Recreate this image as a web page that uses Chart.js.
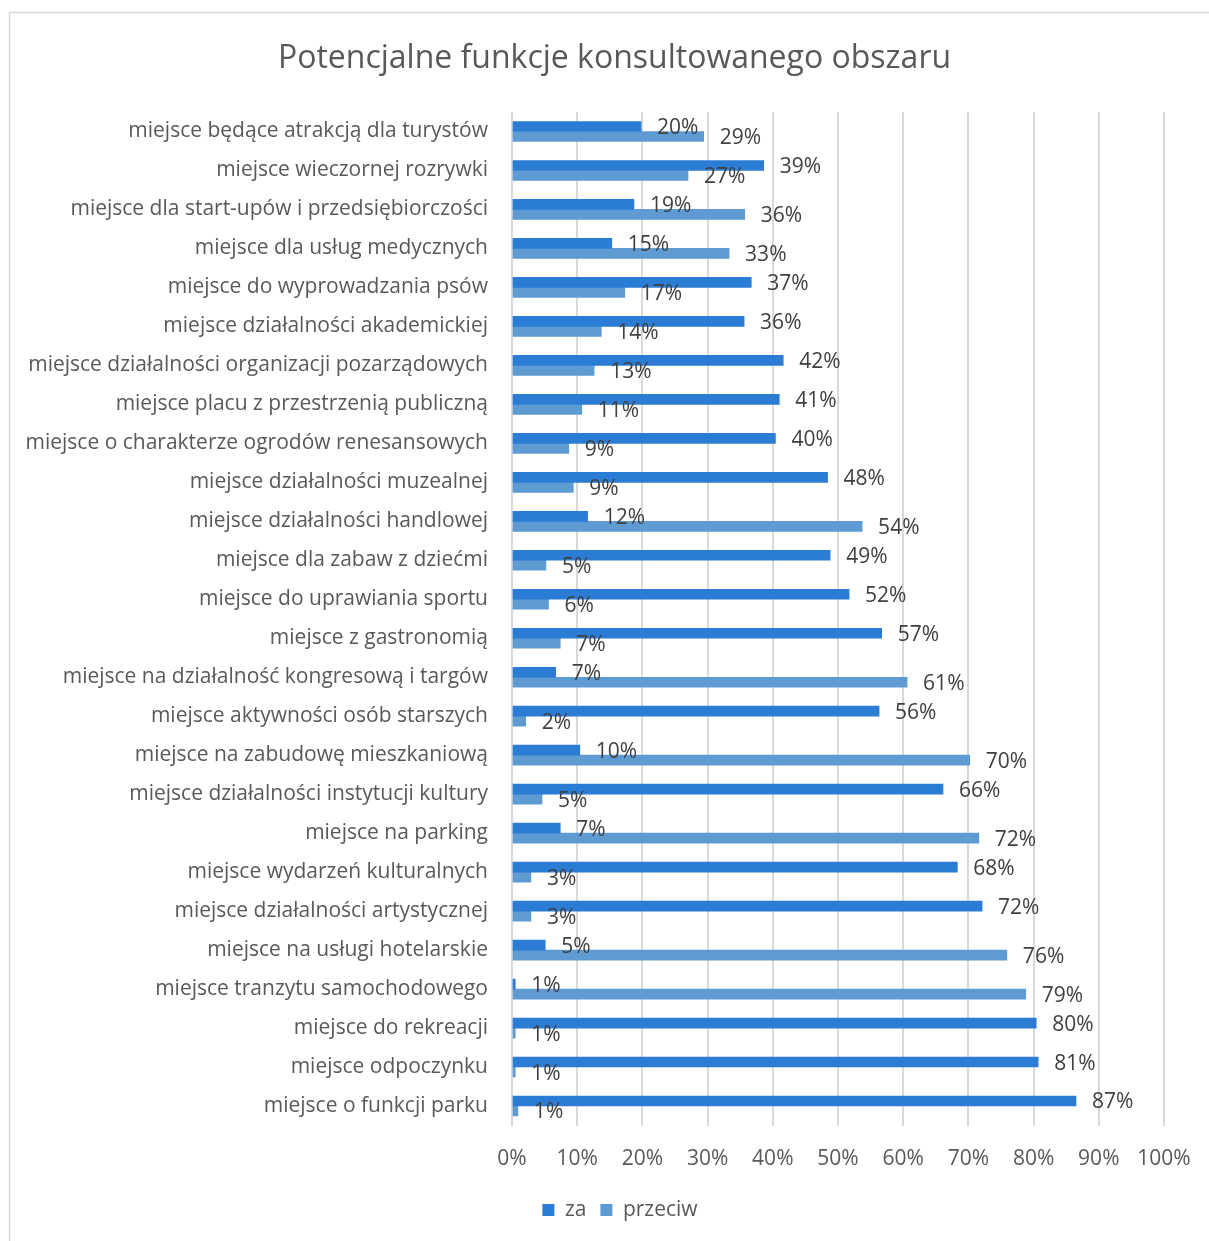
<!DOCTYPE html>
<html>
<head>
<meta charset="utf-8">
<script src="https://cdn.jsdelivr.net/npm/chart.js@4.4.1/dist/chart.umd.min.js"></script>
<style>
  html, body { margin: 0; padding: 0; background: #ffffff; }
  #wrap { position: relative; width: 1209px; height: 1241px; }
  canvas { display: block; }
</style>
</head>
<body>
<div id="wrap"><canvas id="c" width="1209" height="1241"></canvas></div>
<script>
const chartTitle = 'Potencjalne funkcje konsultowanego obszaru';
const categories = [
  'miejsce będące atrakcją dla turystów',
  'miejsce wieczornej rozrywki',
  'miejsce dla start-upów i przedsiębiorczości',
  'miejsce dla usług medycznych',
  'miejsce do wyprowadzania psów',
  'miejsce działalności akademickiej',
  'miejsce działalności organizacji pozarządowych',
  'miejsce placu z przestrzenią publiczną',
  'miejsce o charakterze ogrodów renesansowych',
  'miejsce działalności muzealnej',
  'miejsce działalności handlowej',
  'miejsce dla zabaw z dziećmi',
  'miejsce do uprawiania sportu',
  'miejsce z gastronomią',
  'miejsce na działalność kongresową i targów',
  'miejsce aktywności osób starszych',
  'miejsce na zabudowę mieszkaniową',
  'miejsce działalności instytucji kultury',
  'miejsce na parking',
  'miejsce wydarzeń kulturalnych',
  'miejsce działalności artystycznej',
  'miejsce na usługi hotelarskie',
  'miejsce tranzytu samochodowego',
  'miejsce do rekreacji',
  'miejsce odpoczynku',
  'miejsce o funkcji parku'
];
const seriesNames = ['za', 'przeciw'];
const zaValues = [19.8, 38.6, 18.7, 15.3, 36.7, 35.6, 41.6, 41.0, 40.4, 48.4, 11.6, 48.8, 51.7, 56.7, 6.7, 56.3, 10.4, 66.1, 7.4, 68.3, 72.1, 5.1, 0.5, 80.4, 80.7, 86.5];
const przeciwValues = [29.4, 27.0, 35.7, 33.3, 17.3, 13.7, 12.6, 10.7, 8.7, 9.4, 53.7, 5.2, 5.6, 7.4, 60.6, 2.1, 70.2, 4.6, 71.6, 2.9, 2.9, 75.9, 78.8, 0.5, 0.5, 0.9];
const xTickStep = 10;
const xMax = 100;

const FONT = '"Open Sans", "DejaVu Sans", sans-serif';
const PLOT_LEFT = 512;
const X_AXIS_HEIGHT = 60;
const LEGEND_SHIFT = 76;
const TITLE_SHIFT = 65;

const frameAndLabels = {
  id: 'frameAndLabels',
  afterLayout(chart) {
    if (chart.legend) chart.legend.left += LEGEND_SHIFT;
    if (chart.titleBlock) chart.titleBlock.left += TITLE_SHIFT;
  },
  beforeDraw(chart) {
    const ctx = chart.ctx;
    ctx.save();
    ctx.fillStyle = '#ffffff';
    ctx.fillRect(0, 0, chart.width, chart.height);
    ctx.strokeStyle = '#D9D9D9';
    ctx.lineWidth = 1.5;
    ctx.strokeRect(9.5, 12.5, chart.width + 20, chart.height + 20);
    ctx.restore();
  },
  afterDatasetsDraw(chart) {
    const ctx = chart.ctx;
    ctx.save();
    ctx.font = '21px ' + FONT;
    ctx.fillStyle = '#404040';
    ctx.textAlign = 'left';
    ctx.textBaseline = 'middle';
    chart.data.datasets.forEach((ds, di) => {
      const meta = chart.getDatasetMeta(di);
      meta.data.forEach((el, i) => {
        const v = ds.data[i];
        ctx.fillText(Math.round(v) + '%', el.x + 16, el.y + 1.5);
      });
    });
    ctx.restore();
  }
};

new Chart(document.getElementById('c'), {
  type: 'bar',
  data: {
    labels: categories,
    datasets: [
      { label: seriesNames[0], data: zaValues, backgroundColor: '#2B7CD5', barThickness: 10 },
      { label: seriesNames[1], data: przeciwValues, backgroundColor: '#5F9BD3', barThickness: 10 }
    ]
  },
  options: {
    indexAxis: 'y',
    responsive: false,
    animation: false,
    layout: { padding: { top: 0, right: 45, bottom: 10.5, left: 0 } },
    plugins: {
      title: {
        display: true,
        text: chartTitle,
        color: '#595959',
        font: { family: FONT, size: 32, weight: 'normal' },
        padding: { top: 40, bottom: 33.6 }
      },
      legend: {
        display: true,
        position: 'bottom',
        labels: {
          boxWidth: 12,
          boxHeight: 12,
          color: '#595959',
          font: { family: FONT, size: 21 },
          padding: 14
        }
      },
      tooltip: { enabled: false }
    },
    scales: {
      x: {
        min: 0,
        max: xMax,
        ticks: {
          stepSize: xTickStep,
          color: '#595959',
          font: { family: FONT, size: 21 },
          padding: 21,
          callback: (v) => v + '%'
        },
        grid: { color: '#D9D9D9', lineWidth: 2, drawTicks: false },
        border: { display: false },
        afterFit(scale) { scale.paddingRight = 0; scale.height = X_AXIS_HEIGHT; }
      },
      y: {
        ticks: {
          color: '#595959',
          font: { family: FONT, size: 21 },
          padding: 24,
          autoSkip: false
        },
        grid: { display: false, drawTicks: false },
        border: { display: false },
        afterFit(scale) { scale.width = PLOT_LEFT; }
      }
    }
  },
  plugins: [frameAndLabels]
});
</script>
</body>
</html>
